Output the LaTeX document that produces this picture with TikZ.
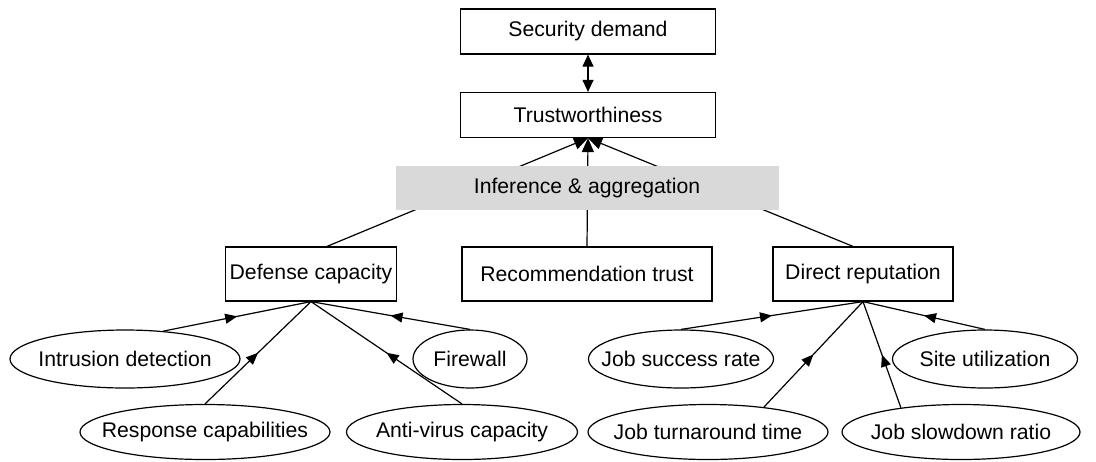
\documentclass[tikz,border=0pt]{standalone}
\usepackage{fontspec}
\setmainfont{Liberation Sans}
\usetikzlibrary{arrows.meta, shapes.geometric, decorations.markings}

\begin{document}
\begin{tikzpicture}[
    x=0.5pt, y=-0.5pt,
    font=\fontsize{10.6}{12.7}\selectfont,
    factor/.style={rectangle, draw=black, line width=0.6pt,
                   minimum height=27pt, inner sep=0pt, align=center},
    item/.style={ellipse, draw=black, line width=0.6pt,
                 minimum height=29pt, inner xsep=-12pt, inner ysep=0pt},
    link/.style={line width=0.6pt},
    tip/.style={-{Triangle[length=7pt,width=6pt]}},
    midarrow/.style={link, postaction={decorate},
                     decoration={markings, mark=at position 0.5 with
                       {\arrow{Triangle[length=6pt,width=5pt]}}}}
  ]
    \useasboundingbox (0,0) rectangle (1096,461);

    % Top boxes
    \node[factor, minimum width=127.5pt, minimum height=22.5pt] (sec) at (588,31.5) {Security demand};
    \node[factor, minimum width=127.5pt, minimum height=22.5pt] (trust) at (588,115) {Trustworthiness};

    % Second level boxes
    \node[factor, minimum width=85.5pt] (def) at (311,274) {Defense capacity};
    \node[factor, minimum width=125pt] (rec) at (587,274) {Recommendation trust};
    \node[factor, minimum width=90pt] (dir) at (863,274) {Direct reputation};

    % Defense indicators
    \node[item, minimum width=115pt] (intr) at (125,359) {Intrusion detection};
    \node[item, minimum width=57pt] (fire) at (470,359) {Firewall};
    \node[item, minimum width=125pt, minimum height=27.5pt] (resp) at (205,432) {Response capabilities};
    \node[item, minimum width=115.5pt, minimum height=27.5pt] (anti) at (462,432) {Anti-virus capacity};

    % Reputation indicators
    \node[item, minimum width=92.5pt] (jsr) at (681,359) {Job success rate};
    \node[item, minimum width=92.5pt] (site) at (985,359) {Site utilization};
    \node[item, minimum width=120pt, minimum height=27.5pt] (jtt) at (708,432) {Job turnaround time};
    \node[item, minimum width=119pt, minimum height=27.5pt] (jsd) at (961,432) {Job slowdown ratio};

    % Security demand <-> trustworthiness
    \draw[link, {Triangle[length=6pt,width=5.5pt]}-{Triangle[length=6pt,width=5.5pt]}] (sec.south) -- (trust.north);

    % Aggregation into trustworthiness
    \draw[link, tip] ([xshift=8pt]def.north) -- (trust.south);
    \draw[link, tip] (rec.north) -- (trust.south);
    \draw[link, tip] ([xshift=-5pt]dir.north) -- (trust.south);

    % Inference band (over the lines)
    \node[fill=gray!30, minimum width=191.5pt, minimum height=22pt] (band) at (587,188) {Inference \& aggregation};

    % Defense capacity inputs
    \draw[midarrow] (intr.36) -- (def.south);
    \draw[midarrow] (resp.north) -- (def.south);
    \draw[midarrow] (anti.north) -- (def.south);
    \draw[midarrow] (fire.north) -- (def.south);

    % Direct reputation inputs
    \draw[midarrow] (jsr.north) -- (dir.south);
    \draw[midarrow] (jtt.24) -- (dir.south);
    \draw[midarrow] (jsd.158) -- (dir.south);
    \draw[midarrow] (site.north) -- (dir.south);

  \end{tikzpicture}
\end{document}
